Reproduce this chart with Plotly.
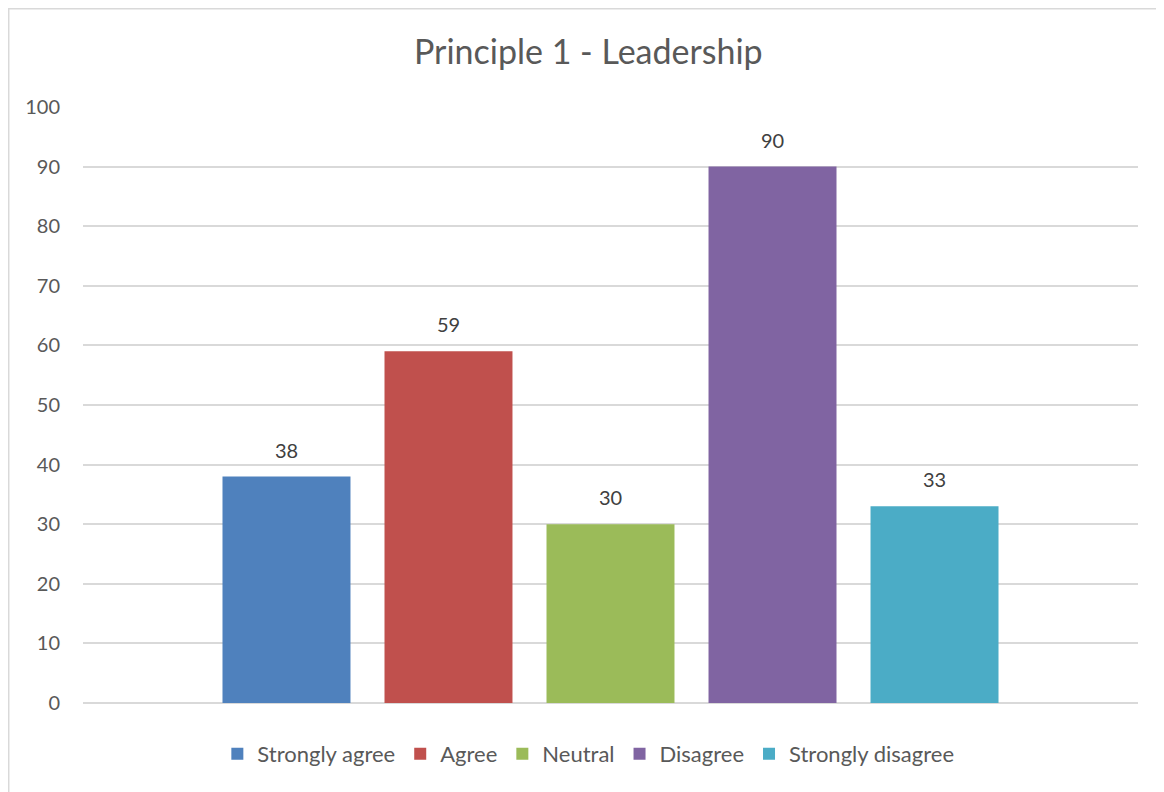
import plotly.graph_objects as go

# survey responses for principle 1
categories = ["Strongly agree", "Agree", "Neutral", "Disagree", "Strongly disagree"]
counts = [38, 59, 30, 90, 33]
bar_colors = ["#4F81BD", "#C0504D", "#9BBB59", "#8064A2", "#4BACC6"]
y_ticks = [0, 10, 20, 30, 40, 50, 60, 70, 80, 90, 100]

FONT = "Lato, Carlito, Calibri, sans-serif"
TEXT = "#595959"

fig = go.Figure()
for name, val, col in zip(categories, counts, bar_colors):
    fig.add_trace(
        go.Bar(
            x=[name],
            y=[val],
            name=name,
            marker_color=col,
            marker_line_width=0,
        )
    )
    # value label sits a little above the bar, like the Excel original
    fig.add_annotation(
        x=name,
        y=val,
        text=str(val),
        showarrow=False,
        yanchor="bottom",
        yshift=13,
        font=dict(size=20, color="#404040", family=FONT),
    )

# the page body adds an 8px margin, so the figure is sized/margined to compensate
fig.update_layout(
    width=1156,
    height=784,
    margin=dict(l=75, r=26, t=99, b=89),
    paper_bgcolor="white",
    plot_bgcolor="white",
    font=dict(family=FONT, color=TEXT, size=20),
    title=dict(
        text="Principle 1 - Leadership",
        x=0.502,
        xanchor="center",
        y=0.944,
        yanchor="middle",
        font=dict(size=34, color=TEXT, family=FONT),
    ),
    barmode="overlay",
    bargap=0.21,
    showlegend=True,
    legend=dict(
        orientation="h",
        x=0.479,
        xanchor="center",
        y=-0.0856,
        yanchor="middle",
        font=dict(size=22, color=TEXT, family=FONT),
        itemwidth=30,
    ),
    shapes=[
        dict(
            type="rect",
            xref="paper",
            yref="paper",
            x0=-0.0704,
            x1=1.05,
            y0=-0.2,
            y1=1.1648,
            line=dict(color="#D9D9D9", width=1.5),
            layer="below",
        )
    ],
)
fig.update_xaxes(
    range=[-1.256, 5.256],
    showticklabels=False,
    showgrid=False,
    showline=False,
    ticks="",
)
fig.update_yaxes(
    range=[0, 100],
    tickvals=y_ticks,
    showgrid=True,
    gridcolor="#D9D9D9",
    gridwidth=1.5,
    zeroline=True,
    zerolinecolor="#D9D9D9",
    zerolinewidth=1.5,
    showline=False,
    ticks="",
    ticklabelstandoff=22,
    tickfont=dict(size=20, color=TEXT, family=FONT),
)

fig.write_html("out.html")
